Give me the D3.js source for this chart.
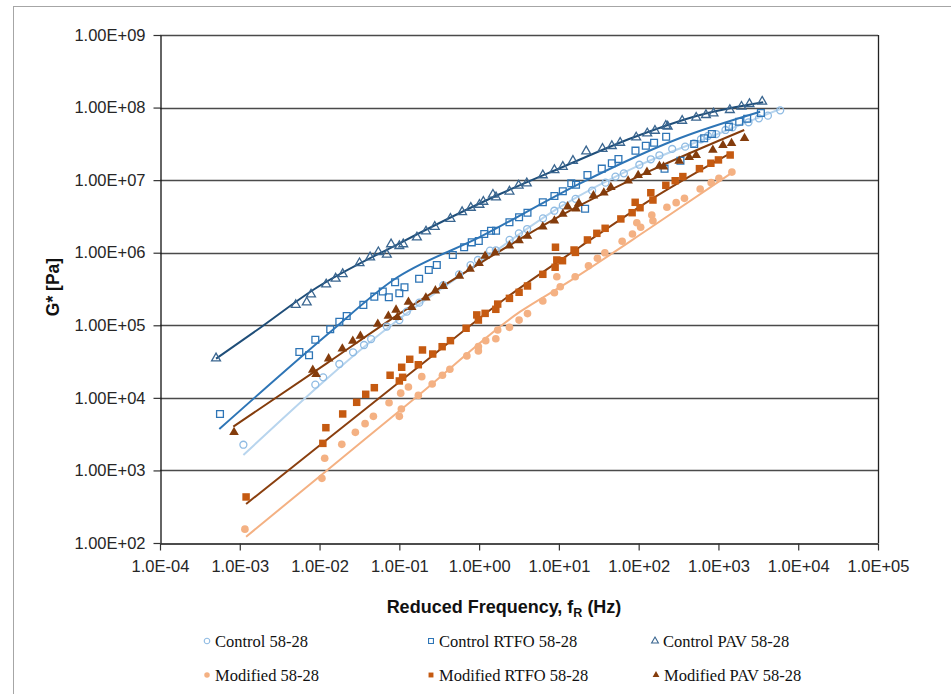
<!DOCTYPE html>
<html><head><meta charset="utf-8">
<script src="https://cdn.jsdelivr.net/npm/d3@7"></script>
<style>body{margin:0;background:#fff}svg{display:block}</style>
</head><body><svg id="c" width="951" height="694"></svg>
<script>
// ---- tick values / labels ----
const xTicks = [1e-4,1e-3,1e-2,1e-1,1e0,1e1,1e2,1e3,1e4,1e5];
const xTickLabels = ["1.0E-04","1.0E-03","1.0E-02","1.0E-01","1.0E+00","1.0E+01","1.0E+02","1.0E+03","1.0E+04","1.0E+05"];
const yTicks = [1e2,1e3,1e4,1e5,1e6,1e7,1e8,1e9];
const yTickLabels = ["1.00E+02","1.00E+03","1.00E+04","1.00E+05","1.00E+06","1.00E+07","1.00E+08","1.00E+09"];

// ---- data: [reduced frequency (Hz), G* (Pa)] ----
const control5828 = [[1.11e-3,2.26e3],[8.85e-3,1.52e4],[1.11e-2,1.92e4],[1.77e-2,2.93e4],[2.63e-2,4.25e4],[3.61e-2,5.35e4],[4.43e-2,6.47e4],[6.97e-2,9.62e4],[0.100,1.18e5],[0.124,1.54e5],[0.178,2.05e5],[0.356,3.57e5],[0.561,5.04e5],[0.781,6.73e5],[0.966,7.94e5],[1.37,1.07e6],[1.62,1.08e6],[2.41,1.50e6],[3.15,1.85e6],[4.00,2.12e6],[6.32,2.98e6],[8.77,3.79e6],[11.2,4.48e6],[16.2,5.53e6],[26.1,7.16e6],[38.4,9.23e6],[51.2,1.12e7],[65.2,1.24e7],[102,1.63e7],[142,1.94e7],[182,2.20e7],[263,2.69e7],[383,2.89e7],[492,3.22e7],[603,3.66e7],[738,4.06e7],[938,4.32e7],[1225,4.91e7],[1500,5.35e7],[2382,6.27e7],[3214,7.11e7],[4169,7.73e7],[5943,9.16e7]];
const controlRTFO = [[5.65e-4,6.0e3],[5.58e-3,4.29e4],[7.38e-3,3.86e4],[8.85e-3,6.33e4],[1.36e-2,8.81e4],[1.77e-2,1.12e5],[2.19e-2,1.34e5],[3.54e-2,1.91e5],[4.86e-2,2.48e5],[6.20e-2,2.92e5],[7.38e-2,2.43e5],[8.85e-2,3.91e5],[0.100,2.76e5],[0.116,3.35e5],[0.177,4.37e5],[0.234,5.78e5],[0.295,6.77e5],[0.468,9.31e5],[0.649,1.19e6],[0.809,1.39e6],[0.991,1.45e6],[1.16,1.81e6],[1.41,2.01e6],[1.63,2.01e6],[2.40,2.63e6],[3.17,3.08e6],[4.04,3.56e6],[6.29,4.95e6],[8.79,6.05e6],[11.2,7.02e6],[14.3,9.05e6],[16.4,8.65e6],[21.3,4.04e6],[22.8,1.18e7],[34.5,1.44e7],[46.1,1.71e7],[55.8,1.95e7],[91.2,2.55e7],[123,2.98e7],[156,3.28e7],[211,1.44e7],[221,3.97e7],[334,1.85e7],[497,3.15e7],[662,3.78e7],[828,4.32e7],[1352,5.46e7],[1820,6.38e7],[2291,7.03e7],[3404,8.41e7]];
const controlPAV = [[5.04e-4,3.51e4],[5.03e-3,1.91e5],[6.91e-3,2.07e5],[7.82e-3,2.67e5],[1.21e-2,3.67e5],[1.59e-2,4.41e5],[1.95e-2,5.09e5],[3.17e-2,7.18e5],[4.30e-2,8.65e5],[5.46e-2,1.02e6],[6.97e-2,9.45e5],[7.88e-2,1.31e6],[0.100,1.24e6],[0.112,1.31e6],[0.166,1.63e6],[0.216,1.97e6],[0.278,2.28e6],[0.437,2.94e6],[0.612,3.64e6],[0.787,4.17e6],[1.01,4.59e6],[1.13,5.05e6],[1.49,6.31e6],[1.63,5.81e6],[2.40,6.98e6],[3.13,8.44e6],[3.96,9.05e6],[6.29,1.17e7],[8.79,1.38e7],[11.2,1.53e7],[15.0,1.85e7],[22.0,2.50e7],[35.2,2.71e7],[46.1,2.96e7],[58.6,3.28e7],[93.1,3.89e7],[128,4.42e7],[160,4.80e7],[219,5.62e7],[231,5.48e7],[351,6.59e7],[526,7.26e7],[697,7.91e7],[867,8.34e7],[1390,9.27e7],[1945,1.03e8],[2449,1.12e8],[3532,1.21e8]];
const modified5828 = [[1.16e-3,1.55e2],[1.07e-2,7.79e2],[1.16e-2,1.47e3],[1.90e-2,2.29e3],[2.81e-2,3.35e3],[3.72e-2,4.41e3],[4.73e-2,5.57e3],[7.43e-2,8.57e3],[0.100,5.57e3],[0.104,1.16e4],[0.106,7.02e3],[0.130,1.41e4],[0.173,1.08e4],[0.191,1.96e4],[0.258,1.55e4],[0.347,2.05e4],[0.430,2.48e4],[0.702,3.78e4],[0.979,4.43e4],[0.979,5.07e4],[1.21,6.14e4],[1.62,6.53e4],[1.71,8.61e4],[2.40,9.38e4],[3.17,1.18e5],[4.04,1.45e5],[6.29,2.16e5],[8.79,2.81e5],[9.42,4.67e5],[10.4,3.40e5],[16.0,4.67e5],[23.5,6.62e5],[30.4,8.38e5],[37.7,1.00e6],[62.1,1.44e6],[83.6,1.81e6],[94.8,2.59e6],[106,2.24e6],[146,3.31e6],[151,2.76e6],[226,4.23e6],[295,4.89e6],[375,5.62e6],[590,7.55e6],[811,9.23e6],[1014,1.06e7],[1475,1.29e7]];
const modifiedRTFO = [[1.20e-3,4.31e2],[1.10e-2,2.36e3],[1.20e-2,3.88e3],[1.95e-2,6.00e3],[2.92e-2,8.68e3],[3.79e-2,1.12e4],[4.86e-2,1.38e4],[7.66e-2,2.05e4],[0.100,1.71e4],[0.107,2.64e4],[0.110,1.92e4],[0.135,3.40e4],[0.173,2.86e4],[0.195,4.57e4],[0.262,4.02e4],[0.344,5.07e4],[0.437,6.14e4],[0.687,9.10e4],[0.935,1.39e5],[0.979,1.18e5],[1.19,1.46e5],[1.62,1.66e5],[1.71,1.96e5],[2.40,2.35e5],[3.17,2.85e5],[4.04,3.48e5],[6.29,5.04e5],[8.97,6.30e5],[9.06,1.19e6],[9.42,7.94e5],[11.1,7.76e5],[15.5,1.09e6],[16.1,1.01e6],[22.8,1.50e6],[29.9,1.85e6],[38.0,2.17e6],[59.8,2.92e6],[82.8,3.56e6],[90.4,4.95e6],[104,4.17e6],[142,6.71e6],[151,5.32e6],[219,8.49e6],[287,9.82e6],[358,1.12e7],[578,1.44e7],[804,1.71e7],[1000,1.90e7],[1403,2.22e7]];
const modifiedPAV = [[8.47e-4,3.35e3],[8.22e-3,2.42e4],[9.04e-3,2.11e4],[1.30e-2,3.47e4],[1.93e-2,4.76e4],[2.61e-2,6.07e4],[3.25e-2,7.12e4],[5.37e-2,1.04e5],[7.29e-2,1.34e5],[9.10e-2,1.63e5],[9.46e-2,1.29e5],[0.130,2.09e5],[0.143,1.77e5],[0.215,2.40e5],[0.283,3.00e5],[0.356,3.44e5],[0.566,4.78e5],[0.771,5.97e5],[1.00,7.15e5],[1.19,9.02e5],[1.59,1.00e6],[2.40,1.25e6],[3.17,1.47e6],[4.04,1.70e6],[6.29,2.28e6],[8.79,2.76e6],[11.2,3.42e6],[12.9,4.31e6],[16.4,4.04e6],[17.8,4.80e6],[27.1,6.11e6],[36.6,6.71e6],[44.8,7.96e6],[73.8,9.82e6],[98.6,1.17e7],[127,1.29e7],[182,1.57e7],[205,1.53e7],[322,1.84e7],[430,2.07e7],[526,2.20e7],[851,2.60e7],[1138,3.02e7],[1459,3.22e7],[2123,3.78e7]];

// fitted master curves
const control5828Fit = [[1.11e-3,1.63e3],[8.41e-2,1.06e5],[1.03,7.45e5],[10.4,4.27e6],[104,1.62e7],[1052,4.47e7],[5943,9.55e7]];
const controlRTFOFit = [[5.54e-4,3.72e3],[1.23e-2,7.35e4],[8.41e-2,4.21e5],[1.03,1.65e6],[18.5,9.05e6],[331,3.81e7],[3337,8.77e7]];
const controlPAVFit = [[5.04e-4,3.47e4],[1.79e-3,9.18e4],[8.28e-3,3.06e5],[0.102,1.36e6],[1.83,6.44e6],[10.4,1.47e7],[85.3,3.87e7],[590,7.91e7],[3640,1.18e8]];
const modified5828Fit = [[1.20e-3,1.22e2],[1.36e-2,1.09e3],[0.182,1.13e4],[3.27,1.54e5],[12.6,3.83e5],[139,2.19e6],[1545,1.31e7]];
const modifiedRTFOFit = [[1.20e-3,3.45e2],[1.36e-2,2.89e3],[0.182,2.79e4],[2.22,2.42e5],[18.5,1.21e6],[139,5.32e6],[1403,2.34e7]];
const modifiedPAVFit = [[8.30e-4,4.01e3],[1.23e-2,2.99e4],[0.102,1.46e5],[1.03,7.21e5],[10.4,3.21e6],[139,1.34e7],[2104,4.91e7]];

const seriesNames = ["Control 58-28","Control RTFO 58-28","Control PAV 58-28","Modified 58-28","Modified RTFO 58-28","Modified PAV 58-28"];

// ---- drawing ----
const svg = d3.select("#c");
const W = 951, H = 694;
const L = 160, R = 878, T = 35, B = 543;
const x = d3.scaleLog().domain([1e-4,1e5]).range([L,R]);
const y = d3.scaleLog().domain([1e2,1e9]).range([B,T]);

svg.append("rect").attr("width",W).attr("height",H).attr("fill","#fff");
svg.append("rect").attr("x",13.5).attr("y",6.5).attr("width",1000).attr("height",1000)
  .attr("fill","none").attr("stroke","#a6a6a6").attr("stroke-width",1);

// gridlines
svg.append("g").selectAll("line").data(yTicks.slice(1)).join("line")
  .attr("x1",L).attr("x2",R).attr("y1",d=>Math.round(y(d))+0.5).attr("y2",d=>Math.round(y(d))+0.5)
  .attr("stroke","#4a4a4a").attr("stroke-width",1.3);
// right border
svg.append("line").attr("x1",R+0.5).attr("x2",R+0.5).attr("y1",T).attr("y2",B).attr("stroke","#222").attr("stroke-width",1.3);

const tickFont = "'Liberation Sans', Arial, sans-serif";
const xa = svg.append("g").attr("transform",`translate(0,${B+0.5})`)
  .call(d3.axisBottom(x).tickValues(xTicks).tickFormat((d,i)=>xTickLabels[i]).tickSize(7).tickPadding(10).tickSizeOuter(0));
const ya = svg.append("g").attr("transform",`translate(${L+0.5},0)`)
  .call(d3.axisLeft(y).tickValues(yTicks).tickFormat((d,i)=>yTickLabels[i]).tickSize(7).tickPadding(8).tickSizeOuter(0));
[xa,ya].forEach(g=>{
  g.selectAll("path.domain").attr("stroke","#111").attr("stroke-width",1.3);
  g.selectAll(".tick line").attr("stroke","#333").attr("stroke-width",1.2);
  g.selectAll("text").attr("font-family",tickFont).attr("font-size",16.5).attr("fill","#262626");
});

// axis titles
const xt = svg.append("text").attr("x",504).attr("y",613).attr("text-anchor","middle")
  .attr("font-family",tickFont).attr("font-size",18).attr("font-weight","bold").attr("fill","#111");
xt.append("tspan").text("Reduced Frequency, f");
xt.append("tspan").attr("font-size",12.5).attr("dy",4).text("R");
xt.append("tspan").attr("dy",-4).text(" (Hz)");
svg.append("text").attr("transform","translate(59,287) rotate(-90)").attr("text-anchor","middle")
  .attr("font-family",tickFont).attr("font-size",17.5).attr("font-weight","bold").attr("fill","#111").text("G* [Pa]");

// styles
const styles = [
  {data:control5828, fit:control5828Fit, shape:d3.symbolCircle, size:38, color:"#8fbbe3", line:"#b8d5ee", filled:false, lw:2},
  {data:controlRTFO, fit:controlRTFOFit, shape:d3.symbolSquare, size:46, color:"#2e75b6", line:"#2e75b6", filled:false, lw:2},
  {data:controlPAV, fit:controlPAVFit, shape:d3.symbolTriangle, size:34, color:"#3a6690", line:"#1f4e79", filled:false, lw:2},
  {data:modified5828, fit:modified5828Fit, shape:d3.symbolCircle, size:46, color:"#f4b183", line:"#f4b183", filled:true, lw:2},
  {data:modifiedRTFO, fit:modifiedRTFOFit, shape:d3.symbolSquare, size:56, color:"#c55a11", line:"#8a3f0f", filled:true, lw:2},
  {data:modifiedPAV, fit:modifiedPAVFit, shape:d3.symbolTriangle, size:40, color:"#843c0c", line:"#843c0c", filled:true, lw:2}
];

const line = d3.line().x(d=>x(d[0])).y(d=>y(d[1])).curve(d3.curveMonotoneX);
const plot = svg.append("g");
styles.forEach(s=>{
  plot.append("path").datum(s.fit).attr("d",line).attr("fill","none")
    .attr("stroke",s.line).attr("stroke-width",s.lw);
});
styles.forEach(s=>{
  plot.append("g").selectAll("path").data(s.data).join("path")
    .attr("transform",d=>`translate(${x(d[0])},${y(d[1])})`)
    .attr("d",d3.symbol().type(s.shape).size(s.size))
    .attr("fill",s.filled?s.color:"none")
    .attr("stroke",s.filled?"none":s.color).attr("stroke-width",1.3);
});

// legend
const legPos = [[215,641],[439,641],[663,641],[215,675],[439,675],[664,675]];
const leg = svg.append("g");
styles.forEach((s,i)=>{
  const [tx,ty] = legPos[i];
  leg.append("path").attr("transform",`translate(${tx-8},${ty})`)
    .attr("d",d3.symbol().type(s.shape).size(s.shape===d3.symbolTriangle?20:24))
    .attr("fill",s.filled?s.color:"none").attr("stroke",s.filled?"none":s.color).attr("stroke-width",1.1);
  leg.append("text").attr("x",tx).attr("y",ty).attr("dy","0.35em")
    .attr("font-family","'Liberation Serif','Times New Roman',serif").attr("font-size",16.5).attr("fill","#111")
    .text(seriesNames[i]);
});
</script></body></html>
